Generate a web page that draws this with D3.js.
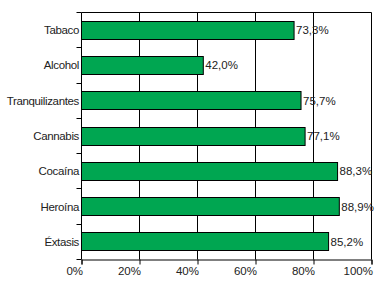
<!DOCTYPE html>
<html>
<head>
<meta charset="utf-8">
<script src="https://cdn.jsdelivr.net/npm/d3@7"></script>
<style>
  body { margin: 0; background: #fff; }
  text { font-family: "Liberation Sans", Arial, sans-serif; font-size: 11.5px; fill: #222; }
</style>
</head>
<body>
<div id="chart"></div>
<script>
const categories = ["Tabaco", "Alcohol", "Tranquilizantes", "Cannabis", "Cocaína", "Heroína", "Éxtasis"];
const values = [73.3, 42.0, 75.7, 77.1, 88.3, 88.9, 85.2];
const xTicks = [0, 20, 40, 60, 80, 100];

function init() {
    const width = 386, height = 296;
    const margin = {top: 12.5, left: 81.5};
    const w = 371.5 - margin.left, h = 259.5 - margin.top;

    const svg = d3.select("#chart").append("svg")
        .attr("width", width)
        .attr("height", height)
        .style("display", "block");
    const g = svg.append("g").attr("transform", `translate(${margin.left},${margin.top})`);

    const x = d3.scaleLinear().domain([0, 100]).range([0, w]);
    const y = d3.scaleBand().domain(categories).range([0, h])
        .paddingInner(0.49).paddingOuter(0.245);

    // vertical gridlines
    g.selectAll("line.grid")
        .data(xTicks.slice(1))
        .join("line")
        .attr("class", "grid")
        .attr("x1", d => Math.round(x(d))).attr("x2", d => Math.round(x(d)))
        .attr("y1", 0).attr("y2", h)
        .attr("stroke", "#000").attr("stroke-width", 1);

    // top border
    g.append("line").attr("x1", 0).attr("x2", w).attr("y1", 0).attr("y2", 0)
        .attr("stroke", "#000");

    // bars
    g.selectAll("rect.bar")
        .data(values)
        .join("rect")
        .attr("class", "bar")
        .attr("x", 0)
        .attr("y", (d, i) => Math.round(y(categories[i])))
        .attr("width", d => x(d))
        .attr("height", Math.round(y.bandwidth()))
        .attr("fill", "#00a651")
        .attr("stroke", "#000")
        .attr("stroke-width", 1);

    // value labels
    const fmt = d => d.toFixed(1).replace(".", ",") + "%";
    g.selectAll("text.val")
        .data(values)
        .join("text")
        .attr("class", "val")
        .attr("x", d => x(d) + 2)
        .attr("y", (d, i) => y(categories[i]) + y.bandwidth() / 2)
        .attr("dy", "0.35em")
        .text(fmt);

    // y axis with ticks at band boundaries
    g.append("line").attr("x1", 0).attr("x2", 0).attr("y1", 0).attr("y2", h).attr("stroke", "#000");
    g.selectAll("line.ytick")
        .data(d3.range(categories.length + 1))
        .join("line")
        .attr("class", "ytick")
        .attr("x1", -5).attr("x2", 0)
        .attr("y1", i => Math.round(i * h / categories.length))
        .attr("y2", i => Math.round(i * h / categories.length))
        .attr("stroke", "#000");
    g.selectAll("text.cat")
        .data(categories)
        .join("text")
        .attr("class", "cat")
        .attr("x", -2.5)
        .attr("y", d => y(d) + y.bandwidth() / 2)
        .attr("dy", "0.35em")
        .attr("text-anchor", "end")
        .style("letter-spacing", "-0.35px")
        .text(d => d);

    // x axis, labels end at the tick
    const xAxis = g.append("g")
        .attr("transform", `translate(0,${h})`)
        .call(d3.axisBottom(x).tickValues(xTicks).tickFormat(d => d + "%").tickSize(5).tickPadding(2));
    xAxis.select(".domain").attr("stroke", "#000");
    xAxis.selectAll(".tick line").attr("stroke", "#000");
    xAxis.selectAll("text")
        .attr("text-anchor", "end")
        .attr("x", 1)
        .style("font-size", "11.5px")
        .attr("fill", "#222");
}

window.onload = init;
</script>
</body>
</html>
